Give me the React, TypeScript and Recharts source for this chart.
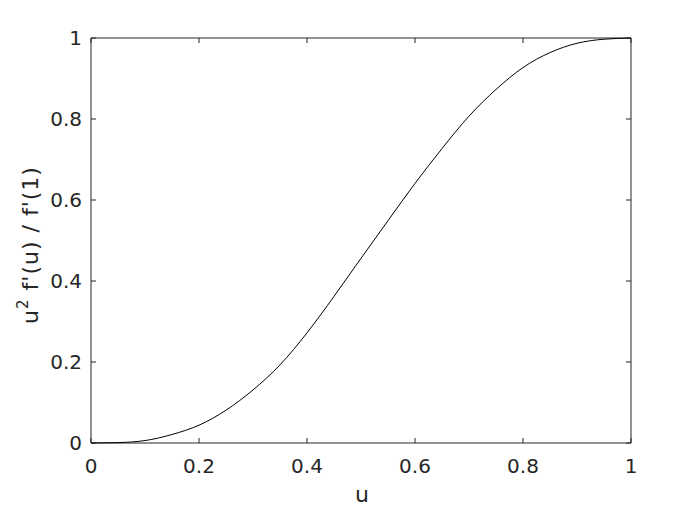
import React from 'react';
import { LineChart, Line, XAxis, YAxis, ReferenceArea } from 'recharts';

const uValues = [0, 0.05, 0.1, 0.15, 0.2, 0.25, 0.3, 0.35, 0.4, 0.45, 0.5, 0.55, 0.6, 0.65, 0.7, 0.75, 0.8, 0.85, 0.9, 0.95, 1];
const ratioValues = [0, 0.001, 0.006, 0.021, 0.044, 0.081, 0.131, 0.193, 0.272, 0.362, 0.456, 0.549, 0.641, 0.727, 0.807, 0.873, 0.927, 0.964, 0.987, 0.997, 1];
const xTicks = [0, 0.2, 0.4, 0.6, 0.8, 1];
const yTicks = [0, 0.2, 0.4, 0.6, 0.8, 1];

const data = uValues.map((u, i) => ({ u, r: ratioValues[i] }));

const W = 698;
const H = 506;
const MARGIN = { top: 38, right: 67, left: 0, bottom: 0 };
const Y_AXIS_W = 91;
const X_AXIS_H = 63;
const PLOT_TOP = MARGIN.top;
const PLOT_BOTTOM = H - MARGIN.bottom - X_AXIS_H;
const PLOT_LEFT = MARGIN.left + Y_AXIS_W;
const PLOT_RIGHT = W - MARGIN.right;
const TICK_LEN = 5;

const FONT = 'DejaVu Sans, sans-serif';
const TXT = '#262626';
const TICK_FS = 20;
const LABEL_FS = 22;

const fmt = (v: number) => String(v);

const XTick = (props: any) => {
  const { x, payload } = props;
  return (
    <g>
      <line x1={x} x2={x} y1={PLOT_BOTTOM} y2={PLOT_BOTTOM - TICK_LEN} stroke={TXT} strokeWidth={1} />
      <line x1={x} x2={x} y1={PLOT_TOP} y2={PLOT_TOP + TICK_LEN} stroke={TXT} strokeWidth={1} />
      <text x={x} y={PLOT_BOTTOM + 29.5} textAnchor="middle" fill={TXT} fontFamily={FONT} fontSize={TICK_FS}>
        {fmt(payload.value)}
      </text>
    </g>
  );
};

const YTick = (props: any) => {
  const { y, payload } = props;
  return (
    <g>
      <line x1={PLOT_LEFT} x2={PLOT_LEFT + TICK_LEN} y1={y} y2={y} stroke={TXT} strokeWidth={1} />
      <line x1={PLOT_RIGHT} x2={PLOT_RIGHT - TICK_LEN} y1={y} y2={y} stroke={TXT} strokeWidth={1} />
      <text x={PLOT_LEFT - 9} y={y + 7.3} textAnchor="end" fill={TXT} fontFamily={FONT} fontSize={TICK_FS}>
        {fmt(payload.value)}
      </text>
    </g>
  );
};

const YLabel = (props: any) => {
  const vb = props.viewBox || { x: 0, y: PLOT_TOP, width: Y_AXIS_W, height: PLOT_BOTTOM - PLOT_TOP };
  const cx = 38;
  const cy = vb.y + vb.height / 2 + 4.5;
  return (
    <text
      x={cx}
      y={cy}
      transform={`rotate(-90, ${cx}, ${cy})`}
      textAnchor="middle"
      fill={TXT}
      fontFamily={FONT}
      fontSize={LABEL_FS}
      letterSpacing={1}
    >
      <tspan>u</tspan>
      <tspan fontSize={15} dy={-10}>2</tspan>
      <tspan dy={10}> f'(u) / f'(1)</tspan>
    </text>
  );
};

const XLabel = (props: any) => {
  const vb = props.viewBox || { x: PLOT_LEFT, y: PLOT_BOTTOM, width: PLOT_RIGHT - PLOT_LEFT, height: X_AXIS_H };
  return (
    <text x={vb.x + vb.width / 2 + 1} y={502} textAnchor="middle" fill={TXT} fontFamily={FONT} fontSize={LABEL_FS}>
      u
    </text>
  );
};

export default function App() {
  return (
    <div style={{ position: 'absolute', left: 0, top: 0, width: W, height: H, background: '#fff' }}>
      <LineChart width={W} height={H} data={data} margin={MARGIN}>
        <XAxis
          xAxisId="bottom"
          dataKey="u"
          type="number"
          domain={[0, 1]}
          ticks={xTicks}
          height={X_AXIS_H}
          tickLine={false}
          axisLine={false}
          tick={<XTick />}
          label={<XLabel />}
          interval={0}
        />
        <YAxis
          yAxisId="left"
          type="number"
          domain={[0, 1]}
          ticks={yTicks}
          width={Y_AXIS_W}
          tickLine={false}
          axisLine={false}
          tick={<YTick />}
          label={<YLabel />}
          interval={0}
        />
        <ReferenceArea
          xAxisId="bottom"
          yAxisId="left"
          x1={0}
          x2={1}
          y1={0}
          y2={1}
          fill="none"
          fillOpacity={0}
          stroke={TXT}
          strokeWidth={1}
          strokeOpacity={1}
        />
        <Line
          xAxisId="bottom"
          yAxisId="left"
          type="natural"
          dataKey="r"
          stroke="#000"
          strokeWidth={1}
          dot={false}
          isAnimationActive={false}
        />
      </LineChart>
    </div>
  );
}
